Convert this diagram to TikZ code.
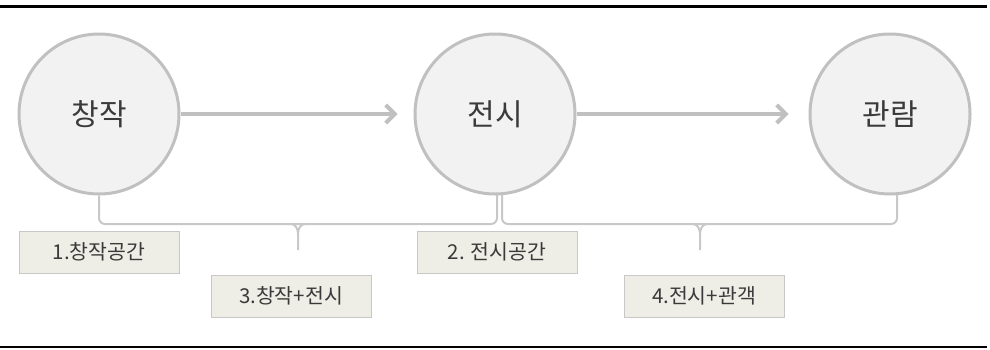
\documentclass[tikz,border=0pt]{standalone}
\usepackage{fontspec}
\setmainfont{Noto Sans CJK KR}
\usetikzlibrary{arrows.meta}
\definecolor{circfill}{HTML}{F2F2F2}
\definecolor{circline}{HTML}{C0C0C0}
\definecolor{boxfill}{HTML}{EEEEE6}
\definecolor{boxline}{HTML}{C8C8C8}
\definecolor{txt}{HTML}{3A3A3A}
\tikzset{
  stage/.style={circle, draw=circline, line width=3pt, fill=circfill, minimum size=160pt, inner sep=0pt, text=txt, font=\fontsize{30}{34}\selectfont},
  lab/.style={draw=boxline, line width=1pt, fill=boxfill, minimum width=160pt, minimum height=42pt, inner sep=0pt, text=txt, font=\fontsize{20.5}{24}\selectfont},
  flow/.style={draw=circline, line width=4pt, -{Straight Barb[length=9pt,width=18pt,line width=4pt]}},
  brace/.style={draw=boxline, line width=2pt, rounded corners=6pt},
  rule/.style={draw=black}
}
\begin{document}
\begin{tikzpicture}[x=1pt,y=-1pt]
\useasboundingbox (0,0) rectangle (990,349);
\draw[rule, line width=3pt] (0,6) -- (987,6);
\draw[rule, line width=2pt] (0,347) -- (987,347);
\node[stage] (c1) at (99,114) {창작};
\node[stage] (c2) at (495,114) {전시};
\node[stage] (c3) at (890,114) {관람};
\draw[flow] (c1.east) -- ([xshift=-16pt]c2.west);
\draw[flow] (c2.east) -- ([xshift=-20pt]c3.west);
\node[lab] (b1) at (99,252) {1.창작공간};
\node[lab] (b2) at (497,252) {2. 전시공간};
\node[lab] (b3) at (291,296) {3.창작+전시};
\node[lab] (b4) at (704,296) {4.전시+관객};
\coordinate (t1) at (298,250);
\coordinate (t2) at (700,250);
\draw[brace] (c1.south) -- (99,224) -- (298,224);
\draw[brace] (298,224) -- (497,224) -- (497,195);
\draw[boxline, line width=2pt] (t1) -- (298,234) to[out=90,in=0] (291,224);
\draw[boxline, line width=2pt] (298,234) to[out=90,in=180] (305,224);
\draw[brace] (502,195) -- (502,224) -- (700,224);
\draw[brace] (700,224) -- (897,224) -- (897,195);
\draw[boxline, line width=2pt] (t2) -- (700,234) to[out=90,in=0] (693,224);
\draw[boxline, line width=2pt] (700,234) to[out=90,in=180] (707,224);
\end{tikzpicture}
\end{document}
